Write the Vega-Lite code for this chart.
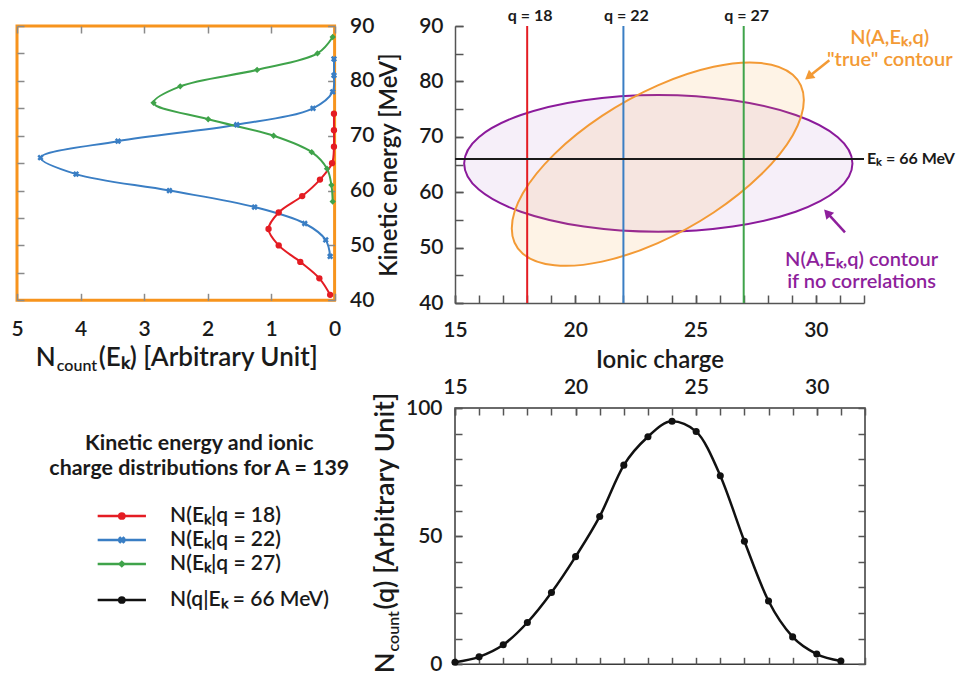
{
  "$schema": "https://vega.github.io/schema/vega-lite/v6.json",
  "background": "white",
  "padding": {"left": 9, "top": 8, "right": 5, "bottom": 5},
  "columns": 2,
  "bounds": "flush",
  "spacing": {"row": 105, "column": 120},
  "datasets": {
    "left": [
      {"series": "q18", "E": 41, "n": 0.07}, {"series": "q18", "E": 44, "n": 0.24}, {"series": "q18", "E": 47, "n": 0.54},
      {"series": "q18", "E": 50, "n": 0.88}, {"series": "q18", "E": 53, "n": 1.04}, {"series": "q18", "E": 56, "n": 0.88},
      {"series": "q18", "E": 59, "n": 0.51}, {"series": "q18", "E": 62, "n": 0.23}, {"series": "q18", "E": 65, "n": 0.04},
      {"series": "q18", "E": 68, "n": 0.01}, {"series": "q18", "E": 71, "n": 0.01}, {"series": "q18", "E": 74, "n": 0.01},
      {"series": "q22", "E": 48, "n": 0.07}, {"series": "q22", "E": 51, "n": 0.14}, {"series": "q22", "E": 54, "n": 0.47},
      {"series": "q22", "E": 57, "n": 1.26}, {"series": "q22", "E": 60, "n": 2.6}, {"series": "q22", "E": 63, "n": 4.07},
      {"series": "q22", "E": 66, "n": 4.63}, {"series": "q22", "E": 69, "n": 3.41}, {"series": "q22", "E": 72, "n": 1.54},
      {"series": "q22", "E": 75, "n": 0.34}, {"series": "q22", "E": 78, "n": 0.03}, {"series": "q22", "E": 81, "n": 0.01},
      {"series": "q22", "E": 84, "n": 0.01},
      {"series": "q27", "E": 58, "n": 0.03}, {"series": "q27", "E": 61, "n": 0.05}, {"series": "q27", "E": 64, "n": 0.12},
      {"series": "q27", "E": 67, "n": 0.36}, {"series": "q27", "E": 70, "n": 0.96}, {"series": "q27", "E": 73, "n": 1.99},
      {"series": "q27", "E": 76, "n": 2.85}, {"series": "q27", "E": 79, "n": 2.43}, {"series": "q27", "E": 82, "n": 1.22},
      {"series": "q27", "E": 85, "n": 0.27}, {"series": "q27", "E": 88, "n": 0.03}
    ],
    "bottom": [
      {"q": 15, "n": 0.8}, {"q": 16, "n": 2.9}, {"q": 17, "n": 7.6}, {"q": 18, "n": 16.3}, {"q": 19, "n": 28},
      {"q": 20, "n": 42}, {"q": 21, "n": 57.7}, {"q": 22, "n": 77.7}, {"q": 23, "n": 88.8}, {"q": 24, "n": 94.8},
      {"q": 25, "n": 90.8}, {"q": 26, "n": 73.6}, {"q": 27, "n": 48}, {"q": 28, "n": 24.7}, {"q": 29, "n": 10.7},
      {"q": 30, "n": 4}, {"q": 31, "n": 1.3}
    ],
    "purple": [
      {"q": 31.52, "E": 65.2}, {"q": 30.91, "E": 69.93}, {"q": 29.16, "E": 73.93}, {"q": 26.54, "E": 76.61},
      {"q": 23.45, "E": 77.55}, {"q": 20.36, "E": 76.61}, {"q": 17.74, "E": 73.93}, {"q": 15.99, "E": 69.93},
      {"q": 15.38, "E": 65.2}, {"q": 15.99, "E": 60.47}, {"q": 17.74, "E": 56.47}, {"q": 20.36, "E": 53.79},
      {"q": 23.45, "E": 52.85}, {"q": 26.54, "E": 53.79}, {"q": 29.16, "E": 56.47}, {"q": 30.91, "E": 60.47}
    ],
    "orange": [
      {"q": 29.5, "E": 76.63}, {"q": 29.04, "E": 81.2}, {"q": 27.72, "E": 83.3}, {"q": 25.75, "E": 82.63},
      {"q": 23.43, "E": 79.28}, {"q": 21.11, "E": 73.77}, {"q": 19.14, "E": 66.92}, {"q": 17.82, "E": 59.8},
      {"q": 17.36, "E": 53.47}, {"q": 17.82, "E": 48.9}, {"q": 19.14, "E": 46.8}, {"q": 21.11, "E": 47.47},
      {"q": 23.43, "E": 50.82}, {"q": 25.75, "E": 56.33}, {"q": 27.72, "E": 63.18}, {"q": 29.04, "E": 70.3}
    ],
    "legend": [
      {"series": "q18", "label": "N(Eₖ|q = 18)"},
      {"series": "q22", "label": "N(Eₖ|q = 22)"},
      {"series": "q27", "label": "N(Eₖ|q = 27)"},
      {"series": "E66", "label": "N(q|Eₖ = 66 MeV)"}
    ]
  },
  "config": {
    "font": "Lato",
    "view": {"stroke": null},
    "axis": {
      "grid": false, "labelFont": "Lato", "labelFontSize": 21, "labelFontWeight": 600, "labelColor": "#1a1a1a",
      "titleFont": "Lato", "titleFontSize": 24, "titleFontWeight": 600, "titleColor": "#1a1a1a",
      "tickColor": "#555555", "tickWidth": 1.5, "domainColor": "#555555", "domainWidth": 1.5,
      "labelFlush": false, "labelOverlap": false, "minExtent": 0
    },
    "text": {"font": "Lato"}
  },
  "concat": [
    {
      "width": 317.6,
      "height": 274.3,
      "view": {"stroke": "#f7941d", "strokeWidth": 3},
      "data": {"name": "left"},
      "layer": [
        {
          "layer": [
            {
              "mark": {"type": "line", "interpolate": "catmull-rom", "strokeWidth": 2},
              "encoding": {
                "x": {"field": "n", "type": "quantitative",
                  "scale": {"domain": [0, 5], "reverse": true, "nice": false, "zero": false},
                  "axis": {"orient": "bottom", "values": [0, 1, 2, 3, 4, 5], "format": "d", "title": null, "domain": false, "tickSize": -7, "labelPadding": 25, "tickColor": "#8a8a8a"}},
                "y": {"field": "E", "type": "quantitative",
                  "scale": {"domain": [40, 90], "nice": false, "zero": false},
                  "axis": {"orient": "right", "values": [40, 50, 60, 70, 80, 90], "title": null, "domain": false, "tickSize": -7, "labelPadding": 22, "tickColor": "#8a8a8a"}},
                "color": {"field": "series", "type": "nominal",
                  "scale": {"domain": ["q18", "q22", "q27", "E66"], "range": ["#e41c23", "#3a7ec4", "#3fa34a", "#111111"]}, "legend": null},
                "order": {"value": null}
              }
            },
            {
              "data": {"values": [{"t": "N"}]},
              "mark": {"type": "text", "align": "right", "baseline": "alphabetic", "fontSize": 26, "fontWeight": 600, "color": "#1a1a1a"},
              "encoding": {"x": {"datum": 4.39, "type": "quantitative"}, "y": {"datum": 28.03, "type": "quantitative"}, "text": {"field": "t"}}
            },
            {
              "data": {"values": [{"t": "count"}]},
              "mark": {"type": "text", "align": "left", "baseline": "alphabetic", "fontSize": 16, "fontWeight": 600, "color": "#1a1a1a", "dx": 1, "dy": 5},
              "encoding": {"x": {"datum": 4.39, "type": "quantitative"}, "y": {"datum": 28.03, "type": "quantitative"}, "text": {"field": "t"}}
            },
            {
              "data": {"values": [{"t": "(Eₖ) [Arbitrary Unit]"}]},
              "mark": {"type": "text", "align": "left", "baseline": "alphabetic", "fontSize": 26, "fontWeight": 600, "color": "#1a1a1a", "dx": 43},
              "encoding": {"x": {"datum": 4.39, "type": "quantitative"}, "y": {"datum": 28.03, "type": "quantitative"}, "text": {"field": "t"}}
            }
          ]
        },
        {
          "mark": {"type": "point", "filled": true, "opacity": 1, "size": 40},
          "encoding": {
            "x": {"field": "n", "type": "quantitative",
              "scale": {"domain": [0, 5], "reverse": true, "nice": false, "zero": false},
              "axis": {"orient": "top", "values": [0, 1, 2, 3, 4, 5], "labels": false, "title": null, "domain": false, "tickSize": -7, "tickColor": "#8a8a8a"}},
            "y": {"field": "E", "type": "quantitative",
              "scale": {"domain": [40, 90], "nice": false, "zero": false},
              "axis": {"orient": "left", "values": [40, 45, 50, 55, 60, 65, 70, 75, 80, 85, 90], "labels": false, "title": null, "domain": false, "tickSize": -7, "tickColor": "#8a8a8a"}},
            "color": {"field": "series", "type": "nominal",
              "scale": {"domain": ["q18", "q22", "q27", "E66"], "range": ["#e41c23", "#3a7ec4", "#3fa34a", "#111111"]}, "legend": null},
            "shape": {"field": "series", "type": "nominal",
              "scale": {"domain": ["q18", "q22", "q27", "E66"], "range": ["circle", "cross", "diamond", "circle"]}, "legend": null},
            "angle": {"condition": {"test": "datum.series === 'q22'", "value": 45}, "value": 0}
          }
        }
      ],
      "resolve": {"scale": {"x": "independent", "y": "independent"}}
    },
    {
      "width": 409,
      "height": 277,
      "layer": [
        {
          "layer": [
            {
              "data": {"name": "purple"},
              "mark": {"type": "line", "interpolate": "cardinal-closed", "stroke": "#8b1a9b", "strokeWidth": 2, "fill": "#a050b8", "fillOpacity": 0.09},
              "encoding": {
                "x": {"field": "q", "type": "quantitative",
                  "scale": {"domain": [15, 32], "nice": false, "zero": false},
                  "axis": {"orient": "bottom", "values": [15, 20, 25, 30], "title": "Ionic charge", "tickSize": -8, "labelPadding": 24, "titlePadding": 8}},
                "y": {"field": "E", "type": "quantitative",
                  "scale": {"domain": [40, 90], "nice": false, "zero": false},
                  "axis": {"orient": "left", "values": [40, 50, 60, 70, 80, 90], "title": "Kinetic energy [MeV]", "tickSize": -8, "labelPadding": 20, "titlePadding": 17}},
                "order": {"value": null}
              }
            },
            {
              "data": {"name": "orange"},
              "mark": {"type": "line", "interpolate": "cardinal-closed", "stroke": "#f39a35", "strokeWidth": 2, "fill": "#f7a040", "fillOpacity": 0.13},
              "encoding": {
                "x": {"field": "q", "type": "quantitative"},
                "y": {"field": "E", "type": "quantitative"},
                "order": {"value": null}
              }
            },
            {
              "data": {"values": [{"q": 18, "series": "q18", "label": "q = 18"}, {"q": 22, "series": "q22", "label": "q = 22"}, {"q": 27, "series": "q27", "label": "q = 27"}]},
              "layer": [
                {
                  "mark": {"type": "rule", "strokeWidth": 2},
                  "encoding": {
                    "x": {"field": "q", "type": "quantitative"},
                    "y": {"datum": 40, "type": "quantitative"},
                    "y2": {"datum": 90},
                    "color": {"field": "series", "type": "nominal",
                      "scale": {"domain": ["q18", "q22", "q27", "E66"], "range": ["#e41c23", "#3a7ec4", "#2f9a3c", "#111111"]}, "legend": null}
                  }
                },
                {
                  "mark": {"type": "text", "fontSize": 16, "fontWeight": "bold", "color": "#1a1a1a", "baseline": "middle", "align": "center", "dx": 3, "dy": -10},
                  "encoding": {
                    "x": {"field": "q", "type": "quantitative"},
                    "y": {"datum": 90, "type": "quantitative"},
                    "text": {"field": "label"}
                  }
                }
              ]
            },
            {
              "data": {"values": [{"E": 66, "label": "Eₖ = 66 MeV"}]},
              "layer": [
                {
                  "mark": {"type": "rule", "color": "#1a1a1a", "strokeWidth": 2},
                  "encoding": {"x": {"datum": 15, "type": "quantitative"}, "x2": {"datum": 32}, "y": {"field": "E", "type": "quantitative"}}
                },
                {
                  "mark": {"type": "text", "fontSize": 16, "fontWeight": "bold", "color": "#1a1a1a", "align": "left", "baseline": "middle", "dx": 3},
                  "encoding": {"x": {"datum": 32, "type": "quantitative"}, "y": {"field": "E", "type": "quantitative"}, "text": {"field": "label"}}
                }
              ]
            },
            {
              "data": {"values": [{"q": 30.56, "E": 83.82, "q2": 29.7, "E2": 80.85}]},
              "layer": [
                {
                  "mark": {"type": "rule", "color": "#f39a35", "strokeWidth": 2.5},
                  "encoding": {"x": {"field": "q", "type": "quantitative"}, "y": {"field": "E", "type": "quantitative"}, "x2": {"field": "q2"}, "y2": {"field": "E2"}}
                },
                {
                  "mark": {"type": "point", "shape": "triangle-up", "filled": true, "opacity": 1, "color": "#f39a35", "size": 110, "angle": 231.5},
                  "encoding": {"x": {"field": "q2", "type": "quantitative"}, "y": {"field": "E2", "type": "quantitative"}}
                }
              ]
            },
            {
              "data": {"values": [{"q": 31.21, "E": 52.76, "q2": 30.47, "E2": 56.27}]},
              "layer": [
                {
                  "mark": {"type": "rule", "color": "#8e1f9c", "strokeWidth": 2.5},
                  "encoding": {"x": {"field": "q", "type": "quantitative"}, "y": {"field": "E", "type": "quantitative"}, "x2": {"field": "q2"}, "y2": {"field": "E2"}}
                },
                {
                  "mark": {"type": "point", "shape": "triangle-up", "filled": true, "opacity": 1, "color": "#8e1f9c", "size": 110, "angle": 317.5},
                  "encoding": {"x": {"field": "q2", "type": "quantitative"}, "y": {"field": "E2", "type": "quantitative"}}
                }
              ]
            },
            {
              "data": {"values": [{"q": 33.07, "E": 87.8, "label": "N(A,Eₖ,q)\n\"true\" contour"}]},
              "mark": {"type": "text", "fontSize": 20, "fontWeight": 600, "color": "#f39a35", "align": "center", "baseline": "middle", "lineBreak": "\n", "lineHeight": 22},
              "encoding": {"x": {"field": "q", "type": "quantitative"}, "y": {"field": "E", "type": "quantitative"}, "text": {"field": "label"}}
            },
            {
              "data": {"values": [{"q": 31.9, "E": 47.75, "label": "N(A,Eₖ,q) contour\nif no correlations"}]},
              "mark": {"type": "text", "fontSize": 20, "fontWeight": 600, "color": "#8e1f9c", "align": "center", "baseline": "middle", "lineBreak": "\n", "lineHeight": 22},
              "encoding": {"x": {"field": "q", "type": "quantitative"}, "y": {"field": "E", "type": "quantitative"}, "text": {"field": "label"}}
            }
          ]
        },
        {
          "data": {"name": "purple"},
          "mark": {"type": "point", "opacity": 0},
          "encoding": {
            "x": {"field": "q", "type": "quantitative",
              "scale": {"domain": [15, 32], "nice": false, "zero": false},
              "axis": {"orient": "bottom", "values": [15, 16, 17, 18, 19, 20, 21, 22, 23, 24, 25, 26, 27, 28, 29, 30, 31, 32], "labels": false, "title": null, "domain": false, "tickSize": -8}},
            "y": {"field": "E", "type": "quantitative",
              "scale": {"domain": [40, 90], "nice": false, "zero": false},
              "axis": {"orient": "left", "values": [40, 45, 50, 55, 60, 65, 70, 75, 80, 85, 90], "labels": false, "title": null, "domain": false, "tickSize": -8}}
          }
        }
      ],
      "resolve": {"scale": {"x": "independent", "y": "independent"}}
    },
    {
      "width": 317.6,
      "height": 240,
      "encoding": {
        "y": {"field": "series", "type": "nominal",
          "scale": {"type": "point", "domain": ["p1", "p2", "p3", "T", "s1", "s2", "s3", "s4", "s5", "q18", "s6", "q22", "s7", "q27", "s8", "s9", "E66", "p4", "p5", "p6", "p7"], "padding": 0},
          "axis": null}
      },
      "layer": [
        {
          "data": {"values": [{"series": "T", "label": "Kinetic energy and ionic\ncharge distributions for A = 139"}]},
          "mark": {"type": "text", "fontSize": 21.4, "fontWeight": "bold", "color": "#1a1a1a", "align": "center", "baseline": "middle", "lineBreak": "\n", "lineHeight": 25},
          "encoding": {"x": {"datum": 0.574, "type": "quantitative", "scale": {"domain": [0, 1]}, "axis": null}, "text": {"field": "label"}}
        },
        {
          "data": {"name": "legend"},
          "mark": {"type": "rule", "strokeWidth": 2.5},
          "encoding": {
            "x": {"datum": 0.254, "type": "quantitative"}, "x2": {"datum": 0.406},
            "color": {"field": "series", "type": "nominal",
              "scale": {"domain": ["q18", "q22", "q27", "E66"], "range": ["#e41c23", "#3a7ec4", "#3fa34a", "#111111"]}, "legend": null}
          }
        },
        {
          "data": {"name": "legend"},
          "mark": {"type": "point", "filled": true, "opacity": 1, "size": 60},
          "encoding": {
            "x": {"datum": 0.33, "type": "quantitative"},
            "color": {"field": "series", "type": "nominal", "legend": null},
            "shape": {"field": "series", "type": "nominal",
              "scale": {"domain": ["q18", "q22", "q27", "E66"], "range": ["circle", "cross", "diamond", "circle"]}, "legend": null},
            "angle": {"condition": {"test": "datum.series === 'q22'", "value": 45}, "value": 0}
          }
        },
        {
          "data": {"name": "legend"},
          "mark": {"type": "text", "fontSize": 21, "fontWeight": 600, "color": "#1a1a1a", "align": "left", "baseline": "middle"},
          "encoding": {"x": {"datum": 0.482, "type": "quantitative"}, "text": {"field": "label"}}
        }
      ]
    },
    {
      "width": 410,
      "height": 256.3,
      "view": {"stroke": "#3a3a3a", "strokeWidth": 1.5},
      "data": {"name": "bottom"},
      "layer": [
        {
          "layer": [
            {
              "mark": {"type": "line", "interpolate": "monotone", "strokeWidth": 2.5, "color": "#111111"},
              "encoding": {
                "x": {"field": "q", "type": "quantitative",
                  "scale": {"domain": [15, 32], "nice": false, "zero": false},
                  "axis": {"orient": "top", "values": [15, 20, 25, 30], "title": null, "domain": false, "tickSize": -7, "labelPadding": 18, "tickColor": "#555555"}},
                "y": {"field": "n", "type": "quantitative",
                  "scale": {"domain": [0, 100], "nice": false, "zero": false},
                  "axis": {"orient": "left", "values": [0, 50, 100], "title": null, "domain": false, "tickSize": -7, "labelPadding": 20, "tickColor": "#555555"}}
              }
            },
            {
              "data": {"values": [{"t": "N"}]},
              "mark": {"type": "text", "align": "right", "baseline": "alphabetic", "angle": 270, "fontSize": 27, "fontWeight": 600, "color": "#1a1a1a"},
              "encoding": {"x": {"datum": 12.45, "type": "quantitative"}, "y": {"datum": 4.6, "type": "quantitative"}, "text": {"field": "t"}}
            },
            {
              "data": {"values": [{"t": "count"}]},
              "mark": {"type": "text", "align": "left", "baseline": "alphabetic", "angle": 270, "fontSize": 16, "fontWeight": 600, "color": "#1a1a1a", "dx": 1, "dy": 5},
              "encoding": {"x": {"datum": 12.45, "type": "quantitative"}, "y": {"datum": 4.6, "type": "quantitative"}, "text": {"field": "t"}}
            },
            {
              "data": {"values": [{"t": "(q) [Arbitrary Unit]"}]},
              "mark": {"type": "text", "align": "left", "baseline": "alphabetic", "angle": 270, "fontSize": 27, "fontWeight": 600, "color": "#1a1a1a", "dx": 43},
              "encoding": {"x": {"datum": 12.45, "type": "quantitative"}, "y": {"datum": 4.6, "type": "quantitative"}, "text": {"field": "t"}}
            }
          ]
        },
        {
          "mark": {"type": "point", "filled": true, "opacity": 1, "size": 50, "color": "#111111"},
          "encoding": {
            "x": {"field": "q", "type": "quantitative",
              "scale": {"domain": [15, 32], "nice": false, "zero": false},
              "axis": {"orient": "bottom", "values": [15, 16, 17, 18, 19, 20, 21, 22, 23, 24, 25, 26, 27, 28, 29, 30, 31, 32], "labels": false, "title": null, "domain": false, "tickSize": -7, "tickColor": "#555555"}},
            "y": {"field": "n", "type": "quantitative",
              "scale": {"domain": [0, 100], "nice": false, "zero": false},
              "axis": {"orient": "right", "values": [0, 10, 20, 30, 40, 50, 60, 70, 80, 90, 100], "labels": false, "title": null, "domain": false, "tickSize": -7, "tickColor": "#555555"}}
          }
        },
        {
          "mark": {"type": "point", "opacity": 0},
          "encoding": {
            "x": {"field": "q", "type": "quantitative",
              "scale": {"domain": [15, 32], "nice": false, "zero": false},
              "axis": {"orient": "top", "values": [15, 16, 17, 18, 19, 20, 21, 22, 23, 24, 25, 26, 27, 28, 29, 30, 31, 32], "labels": false, "title": null, "domain": false, "tickSize": -7, "tickColor": "#555555"}},
            "y": {"field": "n", "type": "quantitative",
              "scale": {"domain": [0, 100], "nice": false, "zero": false},
              "axis": {"orient": "left", "values": [0, 10, 20, 30, 40, 50, 60, 70, 80, 90, 100], "labels": false, "title": null, "domain": false, "tickSize": -7, "tickColor": "#555555"}}
          }
        }
      ],
      "resolve": {"scale": {"x": "independent", "y": "independent"}}
    }
  ]
}
